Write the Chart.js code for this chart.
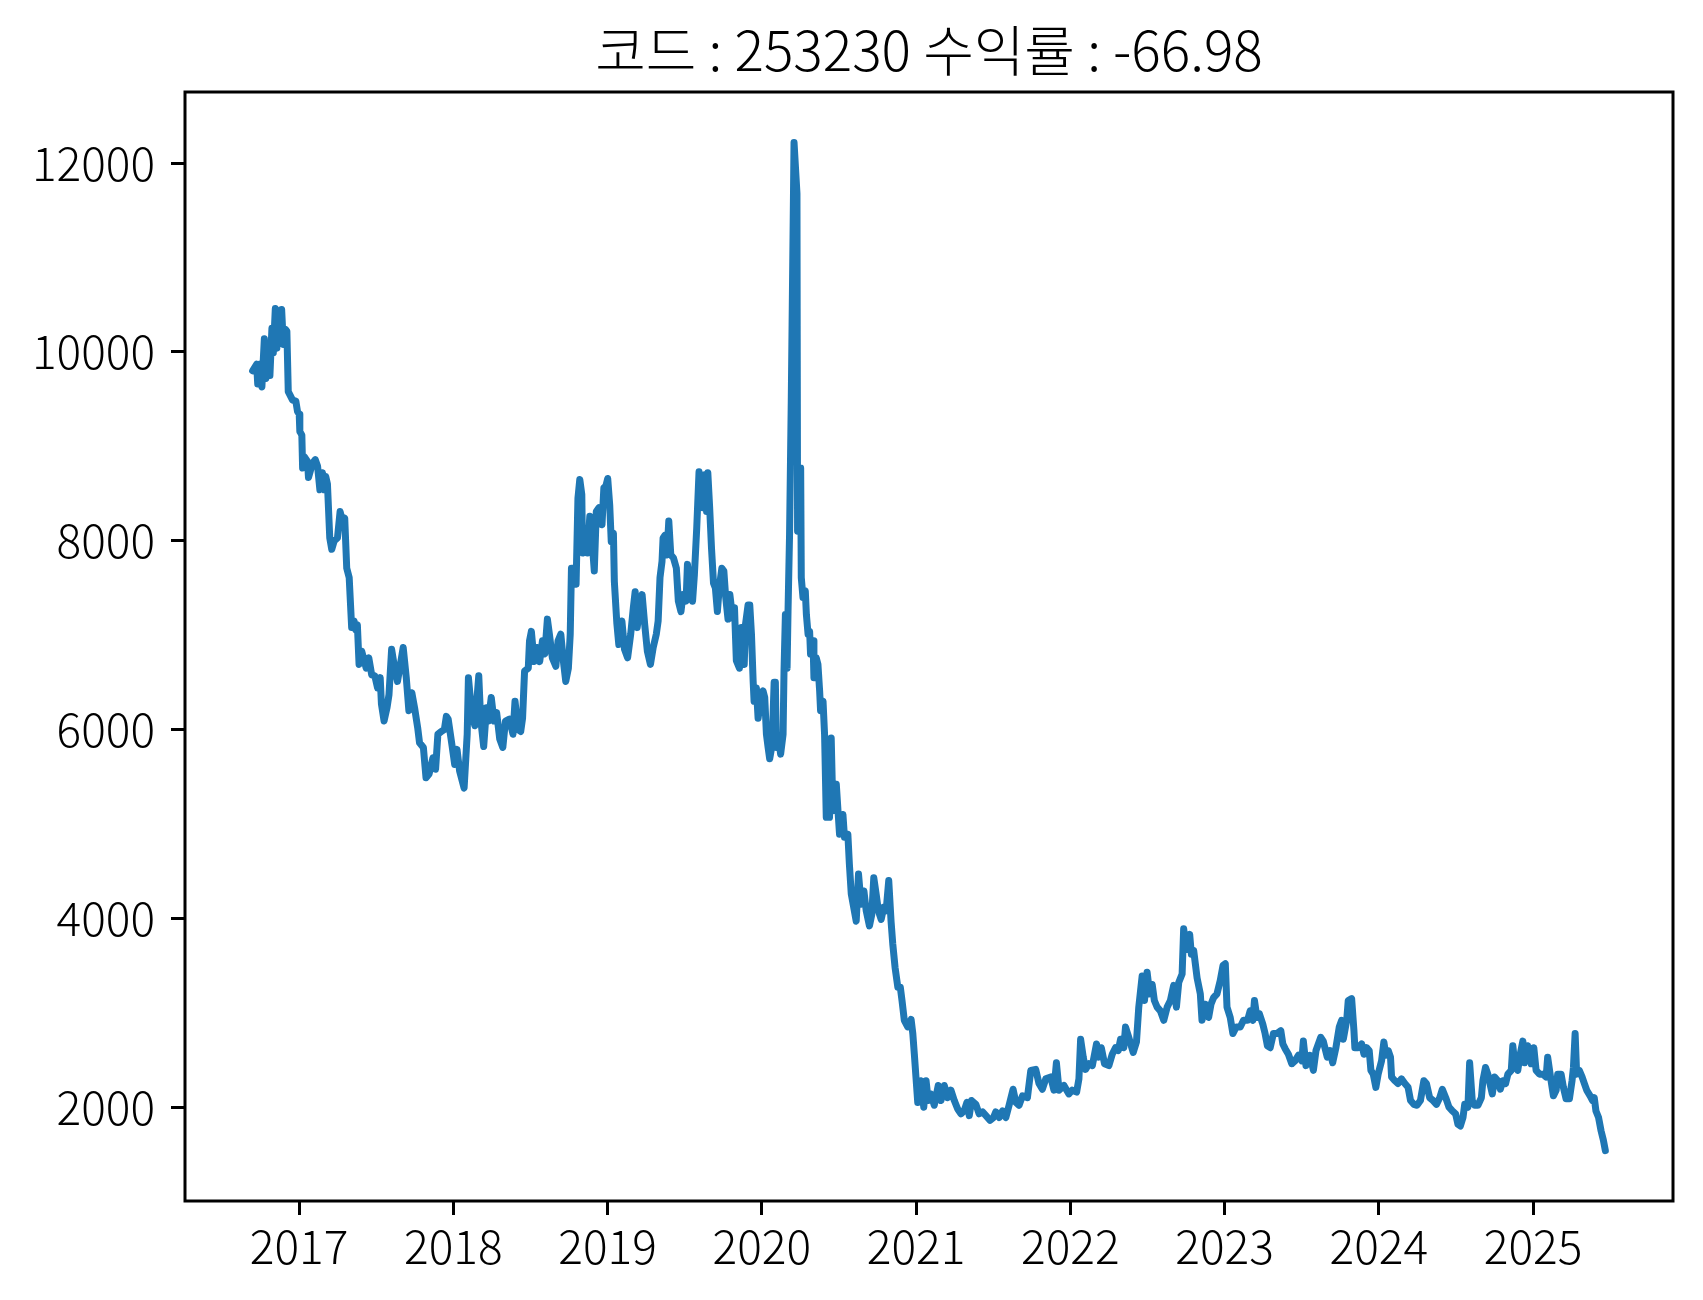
<!DOCTYPE html>
<html>
<head>
<meta charset="utf-8">
<script src="https://cdn.jsdelivr.net/npm/chart.js@4.4.1/dist/chart.umd.min.js"></script>
<style>
  html, body { margin: 0; padding: 0; background: #fff; }
  canvas { display: block; }
</style>
</head>
<body>
<canvas id="priceChart" width="1703" height="1300"></canvas>
<script>
const code = "253230";
const returnPct = "-66.98";

// time of each reading, as a decimal year
const dates = [
  2016.699, 2016.725, 2016.732, 2016.743, 2016.759, 2016.775, 2016.785, 2016.803, 2016.811, 2016.824,
  2016.833, 2016.846, 2016.856, 2016.867, 2016.876, 2016.887, 2016.898, 2016.911, 2016.921, 2016.930,
  2016.958, 2016.979, 2016.990, 2017.001, 2017.005, 2017.018, 2017.023, 2017.034, 2017.055, 2017.061,
  2017.087, 2017.105, 2017.120, 2017.135, 2017.152, 2017.163, 2017.173, 2017.184, 2017.199, 2017.212,
  2017.228, 2017.249, 2017.266, 2017.281, 2017.296, 2017.309, 2017.325, 2017.341, 2017.357, 2017.367,
  2017.378, 2017.389, 2017.406, 2017.435, 2017.452, 2017.471, 2017.491, 2017.509, 2017.526, 2017.534,
  2017.551, 2017.570, 2017.583, 2017.600, 2017.620, 2017.638, 2017.657, 2017.675, 2017.695, 2017.712,
  2017.731, 2017.749, 2017.769, 2017.781, 2017.806, 2017.823, 2017.843, 2017.868, 2017.885, 2017.900,
  2017.922, 2017.942, 2017.955, 2017.967, 2017.991, 2018.009, 2018.024, 2018.041, 2018.070, 2018.090,
  2018.098, 2018.120, 2018.140, 2018.165, 2018.177, 2018.197, 2018.215, 2018.227, 2018.246, 2018.264,
  2018.281, 2018.301, 2018.321, 2018.338, 2018.363, 2018.387, 2018.400, 2018.420, 2018.437, 2018.449,
  2018.462, 2018.486, 2018.494, 2018.506, 2018.524, 2018.543, 2018.560, 2018.578, 2018.593, 2018.610,
  2018.623, 2018.642, 2018.665, 2018.679, 2018.697, 2018.714, 2018.729, 2018.746, 2018.758, 2018.766,
  2018.784, 2018.796, 2018.808, 2018.820, 2018.833, 2018.838, 2018.857, 2018.870, 2018.885, 2018.900,
  2018.914, 2018.927, 2018.944, 2018.964, 2018.976, 2018.989, 2019.001, 2019.014, 2019.024, 2019.038,
  2019.044, 2019.060, 2019.073, 2019.093, 2019.110, 2019.130, 2019.150, 2019.167, 2019.179, 2019.192,
  2019.209, 2019.224, 2019.241, 2019.258, 2019.278, 2019.296, 2019.316, 2019.328, 2019.340, 2019.353,
  2019.360, 2019.373, 2019.385, 2019.397, 2019.410, 2019.427, 2019.446, 2019.459, 2019.476, 2019.489,
  2019.509, 2019.518, 2019.533, 2019.551, 2019.563, 2019.578, 2019.593, 2019.608, 2019.617, 2019.630,
  2019.642, 2019.650, 2019.662, 2019.674, 2019.687, 2019.699, 2019.712, 2019.724, 2019.741, 2019.754,
  2019.766, 2019.781, 2019.793, 2019.811, 2019.823, 2019.835, 2019.855, 2019.868, 2019.886, 2019.894,
  2019.911, 2019.922, 2019.933, 2019.944, 2019.950, 2019.965, 2019.976, 2019.991, 2020.008, 2020.019,
  2020.030, 2020.041, 2020.051, 2020.067, 2020.080, 2020.088, 2020.094, 2020.109, 2020.122, 2020.138,
  2020.144, 2020.153, 2020.164, 2020.170, 2020.180, 2020.191, 2020.209, 2020.228, 2020.232, 2020.239,
  2020.252, 2020.256, 2020.267, 2020.282, 2020.289, 2020.300, 2020.310, 2020.316, 2020.332, 2020.338,
  2020.353, 2020.364, 2020.375, 2020.381, 2020.397, 2020.407, 2020.418, 2020.429, 2020.439, 2020.450,
  2020.461, 2020.483, 2020.494, 2020.504, 2020.526, 2020.536, 2020.558, 2020.568, 2020.580, 2020.612,
  2020.627, 2020.644, 2020.662, 2020.677, 2020.698, 2020.713, 2020.726, 2020.741, 2020.756, 2020.774,
  2020.791, 2020.806, 2020.823, 2020.838, 2020.849, 2020.864, 2020.882, 2020.898, 2020.909, 2020.924,
  2020.946, 2020.968, 2020.979, 2020.989, 2021.011, 2021.032, 2021.050, 2021.065, 2021.079, 2021.097,
  2021.118, 2021.144, 2021.162, 2021.183, 2021.205, 2021.226, 2021.248, 2021.270, 2021.291, 2021.312,
  2021.330, 2021.345, 2021.360, 2021.388, 2021.409, 2021.431, 2021.453, 2021.480, 2021.502, 2021.517,
  2021.539, 2021.561, 2021.582, 2021.603, 2021.629, 2021.647, 2021.668, 2021.690, 2021.722, 2021.744,
  2021.776, 2021.797, 2021.819, 2021.841, 2021.873, 2021.894, 2021.910, 2021.927, 2021.959, 2021.991,
  2022.013, 2022.041, 2022.056, 2022.067, 2022.084, 2022.099, 2022.121, 2022.143, 2022.170, 2022.185,
  2022.201, 2022.222, 2022.250, 2022.272, 2022.293, 2022.311, 2022.326, 2022.347, 2022.358, 2022.379,
  2022.408, 2022.429, 2022.444, 2022.466, 2022.481, 2022.498, 2022.515, 2022.531, 2022.545, 2022.563,
  2022.584, 2022.606, 2022.628, 2022.649, 2022.670, 2022.688, 2022.703, 2022.725, 2022.735, 2022.752,
  2022.774, 2022.785, 2022.800, 2022.822, 2022.843, 2022.854, 2022.875, 2022.897, 2022.912, 2022.929,
  2022.951, 2022.972, 2022.990, 2023.005, 2023.016, 2023.037, 2023.054, 2023.076, 2023.102, 2023.123,
  2023.149, 2023.166, 2023.184, 2023.194, 2023.210, 2023.226, 2023.248, 2023.263, 2023.278, 2023.296,
  2023.317, 2023.339, 2023.365, 2023.378, 2023.393, 2023.414, 2023.436, 2023.457, 2023.479, 2023.501,
  2023.511, 2023.528, 2023.554, 2023.576, 2023.593, 2023.624, 2023.640, 2023.666, 2023.684, 2023.701,
  2023.722, 2023.744, 2023.759, 2023.770, 2023.792, 2023.802, 2023.824, 2023.839, 2023.845, 2023.867,
  2023.889, 2023.904, 2023.921, 2023.938, 2023.949, 2023.964, 2023.981, 2023.996, 2024.018, 2024.033,
  2024.046, 2024.061, 2024.076, 2024.083, 2024.104, 2024.125, 2024.147, 2024.169, 2024.190, 2024.206,
  2024.227, 2024.248, 2024.270, 2024.292, 2024.309, 2024.330, 2024.352, 2024.374, 2024.395, 2024.412,
  2024.434, 2024.455, 2024.477, 2024.498, 2024.513, 2024.529, 2024.546, 2024.557, 2024.578, 2024.589,
  2024.606, 2024.621, 2024.643, 2024.665, 2024.675, 2024.692, 2024.707, 2024.736, 2024.751, 2024.772,
  2024.788, 2024.804, 2024.822, 2024.837, 2024.859, 2024.869, 2024.880, 2024.901, 2024.917, 2024.934,
  2024.945, 2024.966, 2024.988, 2025.005, 2025.020, 2025.042, 2025.063, 2025.085, 2025.095, 2025.117,
  2025.132, 2025.150, 2025.160, 2025.182, 2025.197, 2025.214, 2025.236, 2025.253, 2025.262, 2025.273,
  2025.283, 2025.300, 2025.318, 2025.333, 2025.348, 2025.370, 2025.386, 2025.397, 2025.408, 2025.425,
  2025.441, 2025.456, 2025.469
];

// price read at each date
const prices = [
  9800, 9870, 9660, 9870, 9630, 10140, 9720, 10000, 9750, 10250,
  9990, 10460, 10040, 10430, 10220, 10450, 10080, 10240, 10220, 9580,
  9490, 9480, 9370, 9340, 9160, 9120, 8770, 8890, 8840, 8670,
  8820, 8860, 8790, 8540, 8720, 8540, 8680, 8600, 8030, 7910,
  8000, 8030, 8310, 8210, 8240, 7710, 7610, 7080, 7150, 7060,
  7110, 6690, 6830, 6650, 6760, 6580, 6570, 6440, 6550, 6270,
  6090, 6230, 6370, 6850, 6650, 6510, 6690, 6870, 6550, 6200,
  6390, 6230, 6020, 5860, 5810, 5490, 5530, 5700, 5580, 5950,
  5980, 6000, 6140, 6110, 5840, 5630, 5790, 5560, 5380, 5950,
  6550, 6160, 6040, 6570, 6120, 5820, 6230, 6090, 6340, 6090,
  6180, 5900, 5810, 6090, 6110, 5950, 6300, 6000, 5980, 6120,
  6620, 6650, 6940, 7040, 6720, 6870, 6720, 6940, 6800, 7170,
  7010, 6760, 6670, 6940, 7010, 6720, 6510, 6650, 7010, 7710,
  7710, 7540, 8450, 8650, 8490, 7870, 8130, 7870, 8260, 7990,
  7680, 8310, 8350, 8170, 8560, 8580, 8660, 8380, 7990, 8080,
  7570, 7130, 6900, 7150, 6850, 6760, 7010, 7290, 7460, 7080,
  7290, 7430, 7110, 6830, 6690, 6870, 7010, 7150, 7610, 7780,
  8030, 8060, 7850, 8210, 7850, 7820, 7710, 7360, 7250, 7430,
  7360, 7750, 7540, 7360, 7640, 8130, 8730, 8520, 8350, 8700,
  8310, 8720, 8350, 7920, 7550, 7500, 7250, 7500, 7710, 7680,
  7400, 7170, 7430, 7180, 7290, 6730, 6650, 7080, 6690, 7110,
  7320, 7320, 7010, 6510, 6300, 6440, 6120, 6300, 6410, 6340,
  5950, 5810, 5690, 5840, 6500, 6500, 5810, 5910, 5740, 5950,
  6620, 7220, 6650, 7250, 8070, 9480, 12220, 11680, 8100, 8770,
  8770, 7610, 7400, 7470, 7220, 7010, 7040, 6800, 6940, 6550,
  6760, 6690, 6410, 6200, 6300, 5950, 5070, 5420, 5070, 5910,
  5140, 5420, 5140, 4890, 5100, 4860, 4890, 4570, 4260, 3970,
  4470, 4150, 4290, 4080, 3920, 4040, 4430, 4260, 4080, 3990,
  4120, 4080, 4400, 3970, 3730, 3480, 3270, 3270, 3130, 2920,
  2850, 2930, 2780, 2560, 2050, 2280, 2000, 2280, 2070, 2140,
  2020, 2230, 2070, 2230, 2100, 2180, 2070, 1980, 1930, 1960,
  2050, 1910, 2070, 2030, 1930, 1950, 1910, 1860, 1890, 1950,
  1890, 1960, 1890, 2020, 2190, 2050, 2020, 2120, 2100, 2390,
  2400, 2250, 2190, 2300, 2320, 2180, 2470, 2180, 2230, 2140,
  2180, 2160, 2300, 2720, 2530, 2400, 2460, 2440, 2670, 2530,
  2630, 2460, 2440, 2560, 2630, 2600, 2720, 2630, 2850, 2740,
  2580, 2690, 3060, 3390, 3130, 3430, 3200, 3300, 3130, 3060,
  3020, 2920, 3060, 3130, 3290, 3060, 3320, 3410, 3890, 3670,
  3830, 3620, 3660, 3370, 3200, 2920, 3090, 2950, 3090, 3160,
  3200, 3340, 3500, 3520, 3060, 2950, 2780, 2850, 2850, 2920,
  2920, 3020, 2920, 3130, 2950, 2990, 2880, 2780, 2650, 2630,
  2780, 2780, 2810, 2670, 2620, 2560, 2460, 2490, 2550, 2490,
  2700, 2440, 2550, 2390, 2600, 2740, 2700, 2530, 2600, 2470,
  2630, 2850, 2920, 2720, 2920, 3130, 3150, 2810, 2630, 2630,
  2670, 2560, 2630, 2600, 2390, 2350, 2210, 2350, 2490, 2690,
  2550, 2600, 2530, 2320, 2280, 2250, 2300, 2250, 2210, 2070,
  2030, 2020, 2070, 2280, 2250, 2100, 2070, 2030, 2100, 2190,
  2100, 2000, 1960, 1930, 1820, 1800, 1890, 2030, 2000, 2470,
  2070, 2020, 2020, 2100, 2280, 2420, 2350, 2140, 2320, 2280,
  2190, 2280, 2250, 2350, 2390, 2650, 2490, 2390, 2560, 2700,
  2470, 2650, 2460, 2630, 2390, 2350, 2350, 2320, 2530, 2280,
  2120, 2180, 2350, 2350, 2210, 2090, 2090, 2280, 2420, 2780,
  2350, 2390, 2320, 2250, 2180, 2120, 2070, 2100, 1960, 1890,
  1750, 1650, 1540
];

const yearTicks = [2017, 2018, 2019, 2020, 2021, 2022, 2023, 2024, 2025];
const priceTicks = [2000, 4000, 6000, 8000, 10000, 12000];

const points = dates.map((d, i) => ({ x: d, y: prices[i] }));

// matplotlib style 5% margins around the data
const xSpan = dates[dates.length - 1] - dates[0];
const yLow = Math.min(...prices), yHigh = Math.max(...prices);
const ySpan = yHigh - yLow;

const FONT = "'Noto Sans CJK KR', 'Noto Sans', sans-serif";

// axes box drawn on all four sides
const frame = {
  id: "frame",
  afterDatasetsDraw(chart) {
    const { ctx, chartArea: a } = chart;
    ctx.save();
    ctx.strokeStyle = "#000";
    ctx.lineWidth = 3;
    ctx.strokeRect(a.left, a.top, a.right - a.left, a.bottom - a.top);
    ctx.restore();
  }
};

new Chart(document.getElementById("priceChart").getContext("2d"), {
  type: "line",
  data: {
    datasets: [
      {
        data: points,
        borderColor: "#1f77b4",
        borderWidth: 7,
        pointRadius: 0,
        tension: 0,
        borderJoinStyle: "round",
        borderCapStyle: "round"
      }
    ]
  },
  options: {
    responsive: false,
    devicePixelRatio: 1,
    animation: false,
    layout: { padding: { left: 0, right: 30, top: 0, bottom: 0 } },
    plugins: {
      legend: { display: false },
      tooltip: { enabled: false },
      title: {
        display: true,
        fullSize: false,
        text: `코드 : ${code} 수익률 : ${returnPct}`,
        color: "#000",
        font: { family: FONT, size: 55, weight: "300" },
        padding: { top: 17, bottom: 9 }
      }
    },
    scales: {
      x: {
        type: "linear",
        min: dates[0] - 0.05 * xSpan,
        max: dates[dates.length - 1] + 0.05 * xSpan,
        afterBuildTicks: s => { s.ticks = yearTicks.map(v => ({ value: v })); },
        afterFit: s => { s.height = 99; },
        border: { display: false },
        grid: { drawOnChartArea: false, drawTicks: true, tickLength: 14, tickWidth: 3, tickColor: "#000" },
        ticks: {
          color: "#000",
          padding: 4,
          maxRotation: 0,
          autoSkip: false,
          font: { family: FONT, size: 46, weight: "300" },
          callback: v => String(v)
        }
      },
      y: {
        min: yLow - 0.05 * ySpan,
        max: yHigh + 0.05 * ySpan,
        afterBuildTicks: s => { s.ticks = priceTicks.map(v => ({ value: v })); },
        afterFit: s => { s.width = 185; },
        border: { display: false },
        grid: { drawOnChartArea: false, drawTicks: true, tickLength: 14, tickWidth: 3, tickColor: "#000" },
        ticks: {
          color: "#000",
          padding: 16,
          font: { family: FONT, size: 46, weight: "300" },
          callback: v => String(v)
        }
      }
    }
  },
  plugins: [frame]
});
</script>
</body>
</html>
